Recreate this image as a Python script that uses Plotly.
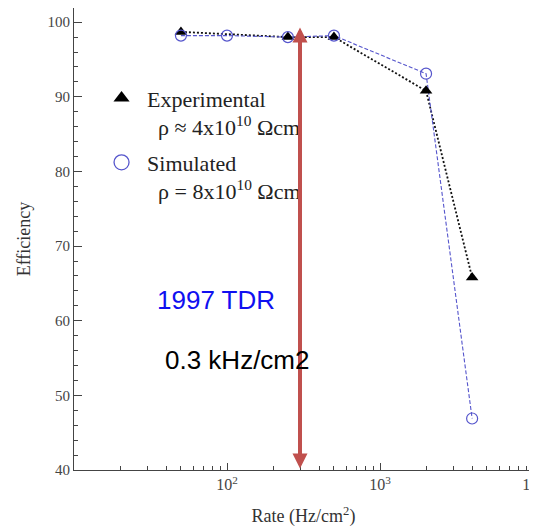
import numpy as np
import plotly.graph_objects as go

exp_rate = [50, 250, 500, 2000, 4000]
exp_eff = [98.7, 98.0, 98.0, 90.8, 65.8]
sim_rate = [50, 100, 250, 500, 2000, 4000]
sim_eff = [98.2, 98.2, 98.0, 98.2, 93.1, 46.9]
tdr_rate = 300
x_tickvals = [10, 100, 1000, 10000]
x_ticktext = ["", "10<sup>2</sup>", "10<sup>3</sup>", "10<sup>4</sup>"]

SERIF = "Liberation Serif, Times New Roman, serif"
SANS = "Liberation Sans, Arial, sans-serif"
BLUE = "#5555cc"
RED = "#c0504d"

fig = go.Figure()
fig.add_trace(go.Scatter(x=exp_rate, y=exp_eff, mode="lines",
                         line=dict(color="#111", width=1.8, dash="2px,2px"),
                         showlegend=False, hoverinfo="skip"))
fig.add_trace(go.Scatter(x=sim_rate, y=sim_eff, mode="lines",
                         line=dict(color=BLUE, width=1.1, dash="4px,2px"),
                         showlegend=False, hoverinfo="skip"))
fig.add_trace(go.Scatter(x=exp_rate, y=exp_eff, mode="markers",
                         marker=dict(symbol="triangle-up", size=11, color="#000"),
                         showlegend=False))
fig.add_trace(go.Scatter(x=sim_rate, y=sim_eff, mode="markers",
                         marker=dict(symbol="circle-open", size=11, color=BLUE,
                                     line=dict(width=1.2)),
                         showlegend=False))
# legend keys
fig.add_trace(go.Scatter(x=[None], y=[None], mode="markers",
                         marker=dict(symbol="triangle-up", size=14, color="#000"),
                         name="&nbsp;Experimental<br>&nbsp;&nbsp;&nbsp;ρ ≈ 4x10<sup>10</sup> Ωcm",
                         legendgroup="a"))
fig.add_trace(go.Scatter(x=[None], y=[None], mode="markers",
                         marker=dict(symbol="circle-open", size=15, color=BLUE,
                                     line=dict(width=1.3)),
                         name="&nbsp;Simulated<br>&nbsp;&nbsp;&nbsp;ρ = 8x10<sup>10</sup> Ωcm",
                         legendgroup="b"))

lt = np.log10(tdr_rate)
fig.add_annotation(x=lt, y=99.3, ax=lt, ay=40.0, xref="x", yref="y",
                   axref="x", ayref="y", text="", showarrow=True,
                   arrowhead=2, arrowside="end+start", arrowsize=0.75,
                   arrowwidth=4, arrowcolor=RED)
fig.add_annotation(x=np.log10(85), y=62.8, text="1997 TDR", showarrow=False,
                   font=dict(family=SANS, size=26, color="#1010f0"))
fig.add_annotation(x=np.log10(117), y=54.7, text="0.3 kHz/cm2", showarrow=False,
                   font=dict(family=SANS, size=26, color="#000"))

fig.update_layout(
    width=529, height=520,
    margin=dict(l=66, r=4, t=0, b=58),
    paper_bgcolor="white", plot_bgcolor="white",
    font=dict(family=SERIF, color="#333"),
    legend=dict(x=0.06, y=0.85, xanchor="left", yanchor="top",
                bgcolor="rgba(0,0,0,0)", font=dict(family=SERIF, size=22, color="#222"),
                valign="top", tracegroupgap=4, itemwidth=30),
    xaxis=dict(type="log", range=[1, 4], tickmode="array", tickvals=x_tickvals,
               ticktext=x_ticktext, ticks="inside", ticklen=7, tickcolor="#444",
               showline=True, linecolor="#444", linewidth=1.2, mirror=True,
               showgrid=False, zeroline=False, automargin=False,
               ticklabeloverflow="allow",
               tickfont=dict(family=SERIF, size=16, color="#444"),
               minor=dict(tickvals=[m * d for d in [10, 100, 1000] for m in range(2, 10)],
                          ticks="inside", ticklen=4, tickcolor="#444", showgrid=False),
               title=dict(text="Rate (Hz/cm<sup>2</sup>)", font=dict(family=SERIF, size=18, color="#333"),
                          standoff=17)),
    yaxis=dict(range=[40, 101.9], tickvals=[40, 50, 60, 70, 80, 90, 100],
               ticks="inside", ticklen=8, tickcolor="#444",
               showline=True, linecolor="#444", linewidth=1.2, mirror=True,
               showgrid=False, zeroline=False, automargin=False,
               tickfont=dict(family=SERIF, size=15, color="#444"),
               minor=dict(dtick=2, ticks="inside", ticklen=4, tickcolor="#444", showgrid=False),
               title=dict(text="Efficiency", font=dict(family=SERIF, size=18, color="#333"),
                          standoff=12)),
)

fig.write_html("out.html")
